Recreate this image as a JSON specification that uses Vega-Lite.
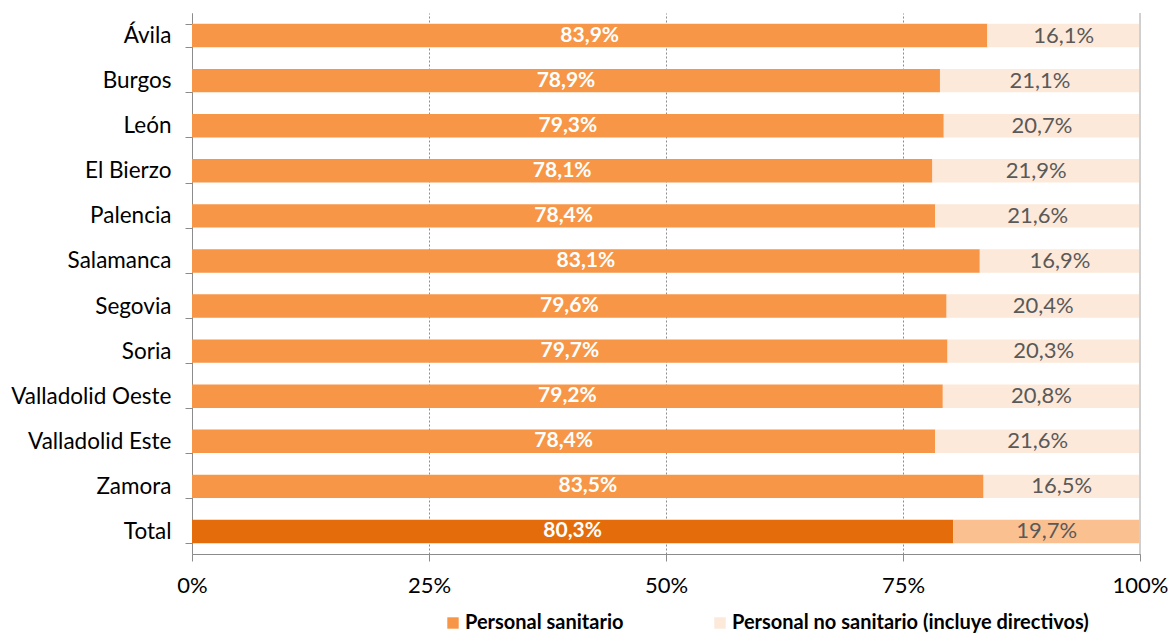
{
  "$schema": "https://vega.github.io/schema/vega-lite/v6.json",
  "autosize": {"type": "none"},
  "padding": {"left": 192, "top": 13, "right": 33, "bottom": 80},
  "width": 948,
  "height": 541,
  "config": {
    "locale": {"number": {"decimal": ",", "thousands": ".", "grouping": [3], "currency": ["", " €"]}},
    "font": "Lato",
    "view": {"stroke": null}
  },
  "data": {
    "values": [
      {"area": "Ávila", "tipo": "Personal sanitario", "valor": 0.839},
      {"area": "Ávila", "tipo": "Personal no sanitario (incluye directivos)", "valor": 0.161},
      {"area": "Burgos", "tipo": "Personal sanitario", "valor": 0.789},
      {"area": "Burgos", "tipo": "Personal no sanitario (incluye directivos)", "valor": 0.211},
      {"area": "León", "tipo": "Personal sanitario", "valor": 0.793},
      {"area": "León", "tipo": "Personal no sanitario (incluye directivos)", "valor": 0.207},
      {"area": "El Bierzo", "tipo": "Personal sanitario", "valor": 0.781},
      {"area": "El Bierzo", "tipo": "Personal no sanitario (incluye directivos)", "valor": 0.219},
      {"area": "Palencia", "tipo": "Personal sanitario", "valor": 0.784},
      {"area": "Palencia", "tipo": "Personal no sanitario (incluye directivos)", "valor": 0.216},
      {"area": "Salamanca", "tipo": "Personal sanitario", "valor": 0.831},
      {"area": "Salamanca", "tipo": "Personal no sanitario (incluye directivos)", "valor": 0.169},
      {"area": "Segovia", "tipo": "Personal sanitario", "valor": 0.796},
      {"area": "Segovia", "tipo": "Personal no sanitario (incluye directivos)", "valor": 0.204},
      {"area": "Soria", "tipo": "Personal sanitario", "valor": 0.797},
      {"area": "Soria", "tipo": "Personal no sanitario (incluye directivos)", "valor": 0.203},
      {"area": "Valladolid Oeste", "tipo": "Personal sanitario", "valor": 0.792},
      {"area": "Valladolid Oeste", "tipo": "Personal no sanitario (incluye directivos)", "valor": 0.208},
      {"area": "Valladolid Este", "tipo": "Personal sanitario", "valor": 0.784},
      {"area": "Valladolid Este", "tipo": "Personal no sanitario (incluye directivos)", "valor": 0.216},
      {"area": "Zamora", "tipo": "Personal sanitario", "valor": 0.835},
      {"area": "Zamora", "tipo": "Personal no sanitario (incluye directivos)", "valor": 0.165},
      {"area": "Total", "tipo": "Personal sanitario", "valor": 0.803},
      {"area": "Total", "tipo": "Personal no sanitario (incluye directivos)", "valor": 0.197}
    ]
  },
  "transform": [
    {"stack": "valor", "groupby": ["area"], "sort": [{"field": "tipo", "order": "descending"}], "as": ["x0", "x1"]}
  ],
  "layer": [
    {
      "mark": {"type": "bar"},
      "encoding": {
        "y": {
          "field": "area",
          "type": "nominal",
          "sort": null,
          "title": null,
          "scale": {"paddingInner": 0.48, "paddingOuter": 0.24},
          "axis": {
            "domainColor": "#8c8c8c",
            "tickColor": "#8c8c8c",
            "tickBand": "extent",
            "tickSize": 7,
            "labelFontSize": 22.5,
            "labelColor": "#000000",
            "labelPadding": 14,
            "labelLimit": 300
          }
        },
        "x": {
          "field": "x0",
          "type": "quantitative",
          "scale": {"domain": [0, 1]},
          "title": null,
          "axis": {
            "format": ".0%",
            "values": [0, 0.25, 0.5, 0.75, 1],
            "domainColor": "#8c8c8c",
            "tickColor": "#8c8c8c",
            "tickSize": 7,
            "labelFontSize": 22,
            "labelColor": "#000000",
            "labelPadding": 14,
            "grid": true,
            "gridColor": "#8c8c8c",
            "gridDash": [2, 2],
            "labelFlush": false
          }
        },
        "x2": {"field": "x1"},
        "color": {
          "condition": [
            {"test": "datum.area === 'Total' && datum.tipo === 'Personal sanitario'", "value": "#E46C0A"},
            {"test": "datum.area === 'Total'", "value": "#FAC090"}
          ],
          "field": "tipo",
          "type": "nominal",
          "scale": {
            "domain": ["Personal sanitario", "Personal no sanitario (incluye directivos)"],
            "range": ["#F79646", "#FDE9D9"]
          },
          "legend": {
            "title": null,
            "orient": "none",
            "direction": "horizontal",
            "legendX": 251,
            "legendY": 600,
            "symbolType": "square",
            "symbolSize": 130,
            "symbolStrokeWidth": 0,
            "labelFontSize": 20,
            "labelFontWeight": "bold",
            "labelColor": "#000000",
            "columnPadding": 86,
            "labelOffset": 2,
            "labelLimit": 500
          }
        }
      }
    },
    {
      "mark": {"type": "rule", "color": "#d0d0d0"},
      "encoding": {"x": {"datum": 1, "type": "quantitative"}}
    },
    {
      "transform": [
        {"filter": "datum.tipo === 'Personal sanitario'"},
        {"calculate": "(datum.x0 + datum.x1) / 2", "as": "mid"}
      ],
      "mark": {"type": "text", "fontSize": 21, "fontWeight": "bold", "color": "#ffffff", "align": "center", "baseline": "middle"},
      "encoding": {
        "y": {"field": "area", "type": "nominal", "sort": null},
        "x": {"field": "mid", "type": "quantitative"},
        "text": {"field": "valor", "type": "quantitative", "format": ".1%"}
      }
    },
    {
      "transform": [
        {"filter": "datum.tipo !== 'Personal sanitario'"},
        {"calculate": "(datum.x0 + datum.x1) / 2", "as": "mid"}
      ],
      "mark": {"type": "text", "fontSize": 22, "color": "#595959", "align": "center", "baseline": "middle"},
      "encoding": {
        "y": {"field": "area", "type": "nominal", "sort": null},
        "x": {"field": "mid", "type": "quantitative"},
        "text": {"field": "valor", "type": "quantitative", "format": ".1%"}
      }
    }
  ]
}
